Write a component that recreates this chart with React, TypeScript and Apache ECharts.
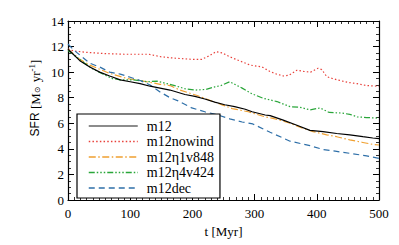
import React, { useEffect, useRef } from "react";
import * as echarts from "echarts";

const seriesNames = ["m12", "m12nowind", "m12η1v848", "m12η4v424", "m12dec"];

const m12: [number, number][] = [[0,11.8],[3,11.65],[19,10.9],[35,10.4],[51,10.0],[67,9.7],[84,9.4],[100,9.25],[116,9.1],[132,8.9],[148,8.75],[164,8.6],[188,8.25],[204,8.1],[220,7.9],[236,7.65],[252,7.45],[268,7.3],[285,7.1],[296,6.9],[317,6.65],[325,6.6],[346,6.25],[368,5.85],[389,5.45],[410,5.35],[432,5.2],[453,5.1],[474,4.95],[490,4.85],[500,4.8]];

const m12nowind: [number, number][] = [[0,11.8],[10,11.65],[30,11.55],[60,11.45],[90,11.4],[130,11.4],[150,11.2],[170,11.1],[200,11.0],[215,11.0],[228,11.3],[238,11.6],[248,11.5],[260,11.2],[275,10.9],[293,10.55],[312,10.4],[325,10.05],[335,9.85],[346,9.7],[355,9.75],[368,10.15],[380,10.05],[390,10.0],[402,10.3],[408,10.2],[416,9.65],[425,9.5],[437,9.35],[450,9.2],[465,9.1],[480,8.95],[500,8.9]];

const m12eta1: [number, number][] = [[0,11.8],[19,11.0],[35,10.55],[67,9.9],[95,9.5],[121,9.3],[148,9.05],[164,8.95],[180,8.6],[209,8.15],[236,7.65],[250,7.4],[264,7.15],[290,6.9],[317,6.5],[328,6.4],[340,6.25],[357,6.0],[378,5.6],[394,5.35],[416,5.1],[432,4.95],[453,4.7],[474,4.5],[490,4.35],[500,4.3]];

const m12eta4: [number, number][] = [[0,11.7],[8,11.4],[24,10.8],[40,10.25],[56,9.85],[71,9.5],[84,9.4],[105,9.4],[127,9.25],[143,9.3],[159,9.1],[175,8.9],[188,8.7],[205,8.6],[222,8.65],[236,8.85],[246,8.95],[260,9.25],[270,9.0],[280,8.75],[296,8.3],[314,7.95],[336,7.7],[357,7.3],[373,7.25],[389,7.05],[405,7.2],[420,6.85],[440,6.8],[453,6.7],[465,6.5],[480,6.45],[500,6.4]];

const m12dec: [number, number][] = [[0,12.2],[10,11.7],[35,10.7],[51,10.4],[67,10.0],[84,9.85],[100,9.6],[116,9.35],[132,9.0],[148,8.45],[164,8.0],[177,7.75],[199,7.2],[220,6.9],[241,6.65],[260,6.35],[280,6.1],[297,5.95],[325,5.3],[357,4.6],[389,4.25],[410,3.95],[432,3.8],[453,3.65],[480,3.45],[500,3.25]];

const xTicks = { min: 0, max: 500, interval: 100 };
const yTicks = { min: 0, max: 14, interval: 2 };

const colors = ["#000000", "#e8403a", "#f0a030", "#2aa63a", "#2e6fa8"];
const legendColors = ["#666666", "#e8403a", "#f0a030", "#2aa63a", "#2e6fa8"];
const dashes: any[] = ["solid", [1.5, 2.2], [7, 2.5, 1.5, 2.5], [6, 2, 1.5, 2, 1.5, 2, 1.5, 2], [6, 4]];
const allData = [m12, m12nowind, m12eta1, m12eta4, m12dec];

export default function App() {
  const ref = useRef<HTMLDivElement>(null);
  useEffect(() => {
    if (!ref.current) return;
    const chart = echarts.init(ref.current, null, { renderer: "svg" });
    const serif = "Liberation Serif";
    const axisCommon = (show: boolean) => ({
      axisLine: { show: true, onZero: false, lineStyle: { color: "#000", width: 1.2 } },
      axisTick: { show: true, inside: true, length: 6, lineStyle: { color: "#000", width: 1 } },
      minorTick: { show: true, length: 3, lineStyle: { color: "#000", width: 0.8 } },
      splitLine: { show: false },
      axisLabel: { show, color: "#000", fontFamily: serif, fontSize: 13 },
    });
    chart.setOption({
      animation: false,
      backgroundColor: "#fff",
      grid: { left: 68, right: 20, top: 21, bottom: 45 },
      xAxis: [
        {
          type: "value", position: "bottom", ...xTicks, ...axisCommon(true),
          minorTick: { show: true, splitNumber: 10, length: 3, lineStyle: { color: "#000", width: 0.8 } },
          axisLabel: { show: true, color: "#000", fontFamily: serif, fontSize: 13, margin: 7 },
          name: "t [Myr]", nameLocation: "middle", nameGap: 22,
          nameTextStyle: { color: "#000", fontFamily: serif, fontSize: 13, verticalAlign: "top" },
        },
        {
          type: "value", position: "top", ...xTicks, ...axisCommon(false),
          minorTick: { show: true, splitNumber: 10, length: 3, lineStyle: { color: "#000", width: 0.8 } },
        },
      ],
      yAxis: [
        {
          type: "value", position: "left", ...yTicks, ...axisCommon(true),
          minorTick: { show: true, splitNumber: 4, length: 3, lineStyle: { color: "#000", width: 0.8 } },
          axisLabel: { show: true, color: "#000", fontFamily: serif, fontSize: 13, margin: 4 },
        },
        {
          type: "value", position: "right", ...yTicks, ...axisCommon(false),
          minorTick: { show: true, splitNumber: 4, length: 3, lineStyle: { color: "#000", width: 0.8 } },
        },
      ],
      legend: {
        orient: "vertical", left: 77, top: 114,
        itemWidth: 49, itemHeight: 10, itemGap: 1.5,
        padding: [5, 6, 3, 11],
        borderColor: "#000", borderWidth: 1.2, backgroundColor: "#fff",
        itemStyle: { opacity: 0 },
        textStyle: { fontFamily: serif, fontSize: 14, color: "#000", lineHeight: 12, padding: [0, 0, 0, 4] },
        data: seriesNames.map((n, i) => ({
          name: n,
          itemStyle: { opacity: 0 },
          lineStyle: { color: legendColors[i], width: 1.5, type: dashes[i], opacity: 1 },
        })),
      },
      graphic: [
        {
          type: "text", x: 35, y: 98, rotation: Math.PI / 2,
          style: {
            text: "{s|SFR} {b|[M}{sub|⊙}{b| yr}{sup|-1}{b|]}",
            align: "center", verticalAlign: "middle",
            rich: {
              s: { fontFamily: "Liberation Sans", fontSize: 12, fill: "#000" },
              b: { fontFamily: serif, fontSize: 13, fill: "#000" },
              sub: { fontFamily: "DejaVu Sans", fontSize: 8, fill: "#000", padding: [5, 1, 0, 0] },
              sup: { fontFamily: serif, fontSize: 9, fill: "#000", padding: [0, 0, 7, 0] },
            },
          },
        },
      ],
      series: allData.map((d, i) => ({
        name: seriesNames[i],
        type: "line",
        data: d,
        symbol: "none",
        xAxisIndex: 0,
        yAxisIndex: 0,
        z: i === 0 ? 5 : 3,
        lineStyle: { color: colors[i], width: 1.2, type: dashes[i] },
        itemStyle: { color: colors[i] },
      })),
    });
    return () => chart.dispose();
  }, []);
  return <div ref={ref} style={{ width: 399, height: 245, position: "absolute", left: 0, top: 0 }} />;
}
